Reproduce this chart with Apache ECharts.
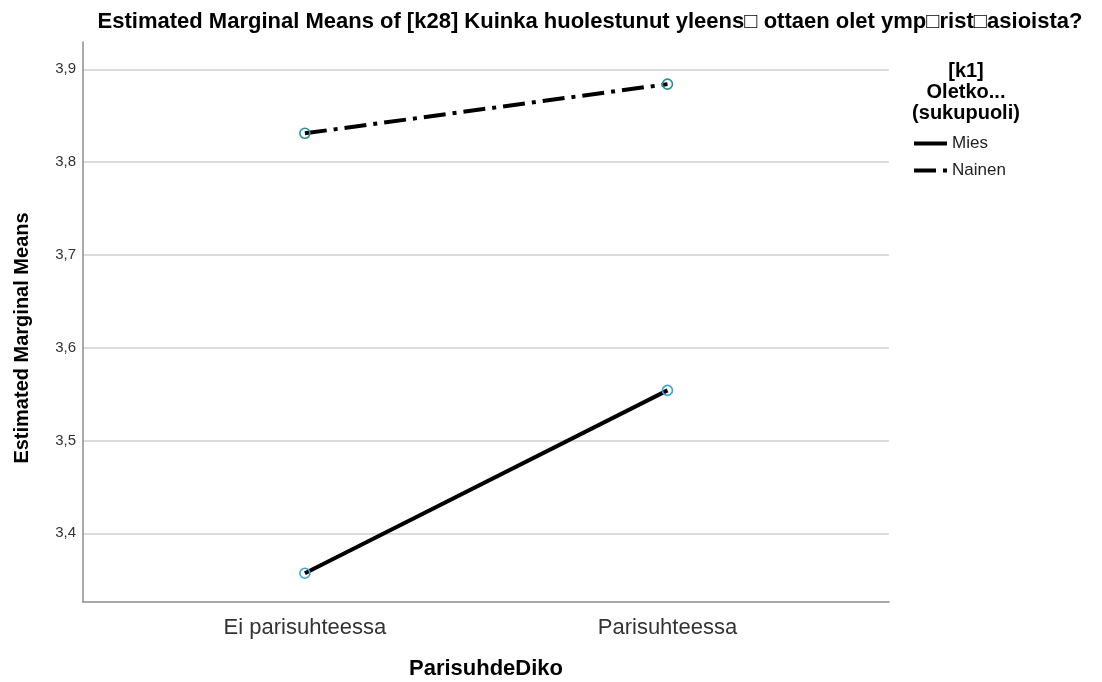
<!DOCTYPE html>
<html>
<head>
<meta charset="utf-8">
<script src="https://cdn.jsdelivr.net/npm/echarts@6/dist/echarts.min.js"></script>
<style>
  html, body { margin: 0; padding: 0; background: #fff; }
  #chart { width: 1102px; height: 682px; }
</style>
</head>
<body>
<div id="chart"></div>
<script>
// 分类与数据
const categories = ["Ei parisuhteessa", "Parisuhteessa"];
const miesValues = [3.357, 3.554];
const nainenValues = [3.831, 3.884];
const yTicks = [3.4, 3.5, 3.6, 3.7, 3.8, 3.9];

const chart = echarts.init(document.getElementById("chart"));
const font = "'Liberation Sans', Arial, sans-serif";

function toPoints(values) {
  return values.map((v, i) => [i, v]);
}

const option = {
  animation: false,
  title: [
    {
      text: "Estimated Marginal Means of [k28] Kuinka huolestunut yleens\u25A1 ottaen olet ymp\u25A1rist\u25A1asioista?",
      left: 585,
      top: 6,
      textAlign: "center",
      textStyle: { fontFamily: font, fontSize: 22, fontWeight: "bold", color: "#000" }
    },
    {
      text: "[k1]\nOletko...\n(sukupuoli)",
      left: 961,
      top: 56,
      textAlign: "center",
      textStyle: { fontFamily: font, fontSize: 20, fontWeight: "bold", color: "#000", lineHeight: 21 }
    }
  ],
  legend: {
    orient: "vertical",
    left: 912,
    top: 135,
    padding: 0,
    itemWidth: 33,
    itemHeight: 14,
    itemGap: 10,
    textStyle: { fontFamily: font, fontSize: 17, color: "#222" },
    itemStyle: { color: "transparent", borderColor: "transparent", borderWidth: 0 },
    lineStyle: { width: 4 },
    data: ["Mies", "Nainen"]
  },
  grid: { left: 83, top: 42, right: 213, bottom: 80, outerBoundsMode: "none" },
  xAxis: {
    type: "value",
    min: -0.612,
    max: 1.611,
    name: "ParisuhdeDiko",
    nameLocation: "middle",
    nameGap: 56,
    nameTextStyle: { fontFamily: font, fontSize: 22, fontWeight: "bold", color: "#000" },
    axisLine: { lineStyle: { color: "#8c8c8c", width: 1.5 } },
    axisTick: { show: false, customValues: [0, 1] },
    splitLine: { show: false },
    axisLabel: {
      customValues: [0, 1],
      margin: 15,
      fontFamily: font,
      fontSize: 22,
      color: "#333",
      formatter: v => categories[Math.round(v)] || ""
    }
  },
  yAxis: {
    type: "value",
    min: 3.326,
    max: 3.9294,
    name: "Estimated Marginal Means",
    nameLocation: "middle",
    nameGap: 51,
    nameTextStyle: { fontFamily: font, fontSize: 20, fontWeight: "bold", color: "#000", padding: [0, 32, 0, 0] },
    axisLine: { show: true, onZero: false, lineStyle: { color: "#8c8c8c", width: 1.5 } },
    axisTick: { show: false, customValues: yTicks },
    splitLine: { show: true, lineStyle: { color: "#d0d0d0", width: 1.5 } },
    axisLabel: {
      customValues: yTicks,
      margin: 7,
      fontFamily: font,
      fontSize: 15,
      color: "#333",
      formatter: v => v.toFixed(1).replace(".", ",")
    }
  },
  series: [
    {
      name: "Mies",
      type: "line",
      data: toPoints(miesValues),
      symbol: "circle",
      symbolSize: 10,
      lineStyle: { color: "#000", width: 4 },
      itemStyle: { color: "rgba(0,0,0,0)", borderColor: "#3d9fe0", borderWidth: 1.6 },
      z: 3
    },
    {
      name: "Nainen",
      type: "line",
      data: toPoints(nainenValues),
      symbol: "circle",
      symbolSize: 10,
      lineStyle: { color: "#000", width: 4, type: [22, 7, 4, 7] },
      itemStyle: { color: "rgba(0,0,0,0)", borderColor: "#2a8f96", borderWidth: 1.6 },
      z: 3
    }
  ]
};

chart.setOption(option);
</script>
</body>
</html>
